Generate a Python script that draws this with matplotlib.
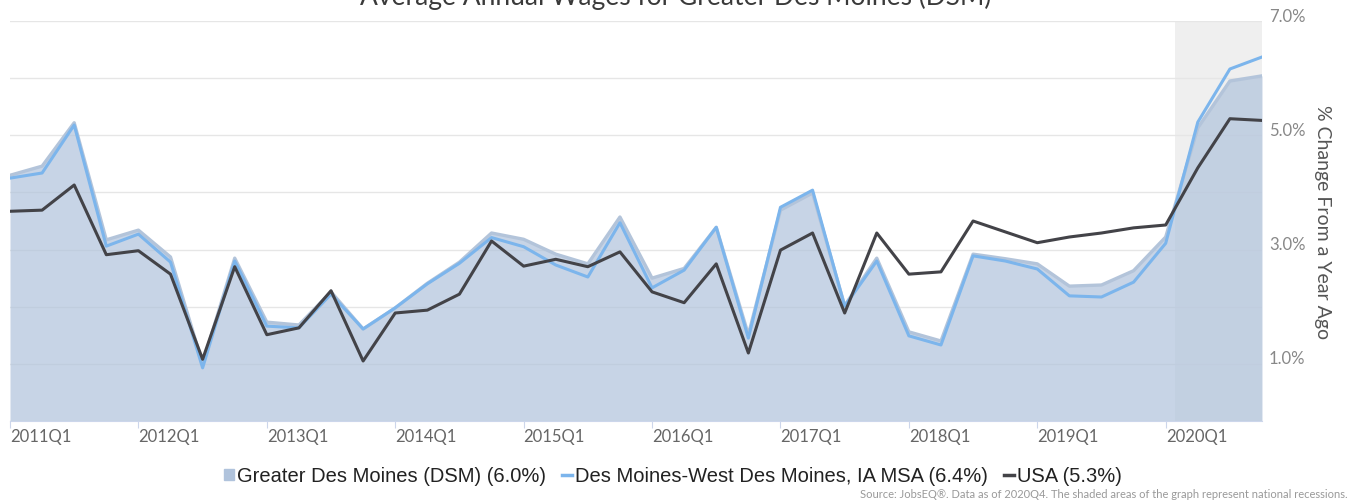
import numpy as np
import matplotlib.pyplot as plt
import matplotlib.transforms as mtransforms
from matplotlib.lines import Line2D
from matplotlib.patches import Patch

# quarterly % change from a year ago, 2011Q1 .. 2020Q4
dsm = [4.30, 4.46, 5.22, 3.17, 3.34, 2.87, 1.00, 2.85, 1.73, 1.68,
       2.26, 1.61, 1.98, 2.41, 2.78, 3.29, 3.18, 2.92, 2.75, 3.57,
       2.50, 2.67, 3.39, 1.51, 3.69, 3.99, 2.02, 2.85, 1.56, 1.40,
       2.92, 2.84, 2.75, 2.36, 2.38, 2.63, 3.22, 5.13, 5.95, 6.04]
msa = [4.25, 4.34, 5.18, 3.06, 3.27, 2.78, 0.93, 2.80, 1.66, 1.63,
       2.22, 1.61, 1.98, 2.40, 2.76, 3.21, 3.05, 2.73, 2.52, 3.47,
       2.33, 2.64, 3.39, 1.45, 3.74, 4.04, 2.01, 2.80, 1.49, 1.33,
       2.89, 2.80, 2.66, 2.19, 2.17, 2.43, 3.11, 5.23, 6.16, 6.37]
usa = [3.67, 3.69, 4.13, 2.91, 2.98, 2.57, 1.08, 2.70, 1.51, 1.63,
       2.28, 1.05, 1.89, 1.94, 2.22, 3.15, 2.71, 2.83, 2.70, 2.96,
       2.26, 2.07, 2.75, 1.19, 2.99, 3.29, 1.89, 3.29, 2.57, 2.61,
       3.50, 3.31, 3.12, 3.22, 3.29, 3.38, 3.43, 4.43, 5.29, 5.26]
years = list(range(2011, 2021))
recession = (36.3, 39)

legend_labels = ['Greater Des Moines (DSM) (6.0%)',
                 'Des Moines-West Des Moines, IA MSA (6.4%)',
                 'USA (5.3%)']

plt.rcParams['font.family'] = ['Lato', 'DejaVu Sans']

W, H = 1356, 503
fig = plt.figure(figsize=(W / 100, H / 100), dpi=100)
ax = fig.add_axes([10 / W, (H - 421) / H, 1252 / W, 400 / H])

x = np.arange(len(dsm))
ax.axvspan(recession[0], recession[1], color='#efefef', lw=0, zorder=0)
ax.fill_between(x, 0, dsm, color='#b0c3dc', alpha=0.7, lw=0, zorder=2)
ax.plot(x, dsm, color='#b3c4da', lw=2.4, zorder=3)
ax.plot(x, msa, color='#7cb5ec', lw=2.2, zorder=4)
ax.plot(x, usa, color='#434348', lw=2.2, zorder=5)

ax.set_xlim(0, 39)
ax.set_ylim(0, 7)

for s in ['top', 'left', 'right']:
    ax.spines[s].set_visible(False)
ax.spines['bottom'].set_color('#ccd6eb')
ax.spines['bottom'].set_zorder(6)

ax.set_xticks([4 * i for i in range(len(years))])
ax.set_xticklabels(['{}Q1'.format(y) for y in years], ha='left',
                   color='#666666', fontsize=12)
ax.tick_params(axis='x', length=5, color='#ccd6eb', pad=1)

ax.set_yticks(range(8))
ax.set_yticklabels(['{:.1f}%'.format(v) if v % 2 == 1 else '' for v in range(8)],
                   color='#888888', fontsize=12)
ax.yaxis.tick_right()
ax.tick_params(axis='y', length=0, pad=5)
off = mtransforms.ScaledTranslation(0, 6 / 100, fig.dpi_scale_trans)
for lab in ax.get_yticklabels():
    lab.set_transform(lab.get_transform() + off)
ax.grid(axis='y', color='#e6e6e6', lw=1)
ax.set_axisbelow(True)

fig.text(1322 / W, 1 - 222 / H, '% Change From a Year Ago', rotation=270,
         ha='center', va='center', fontsize=14, color='#555555')

# title sits partly above the top edge, as in the source image
fig.text(676 / W, 1 - 5 / H, 'Average Annual Wages for Greater Des Moines (DSM)',
         ha='center', va='baseline', fontsize=19, color='#3a3a3a')

handles = [Patch(color='#b0c3dc'),
           Line2D([], [], color='#7cb5ec', lw=2.5),
           Line2D([], [], color='#434348', lw=2.5)]
fig.legend(handles, legend_labels, ncol=3, loc='center',
           bbox_to_anchor=(673 / W, 1 - 476 / H), frameon=False,
           prop={'family': 'Liberation Sans', 'size': 14.5},
           handlelength=0.5, handleheight=0.5, handletextpad=0.15,
           columnspacing=0.8, labelcolor='#222222')

fig.text(1348 / W, 1 - 494 / H,
         'Source: JobsEQ\u00ae. Data as of 2020Q4. The shaded areas of the graph '
         'represent national recessions.',
         ha='right', va='center', fontsize=8, color='#999999')

fig.savefig('out.png', dpi=100)
